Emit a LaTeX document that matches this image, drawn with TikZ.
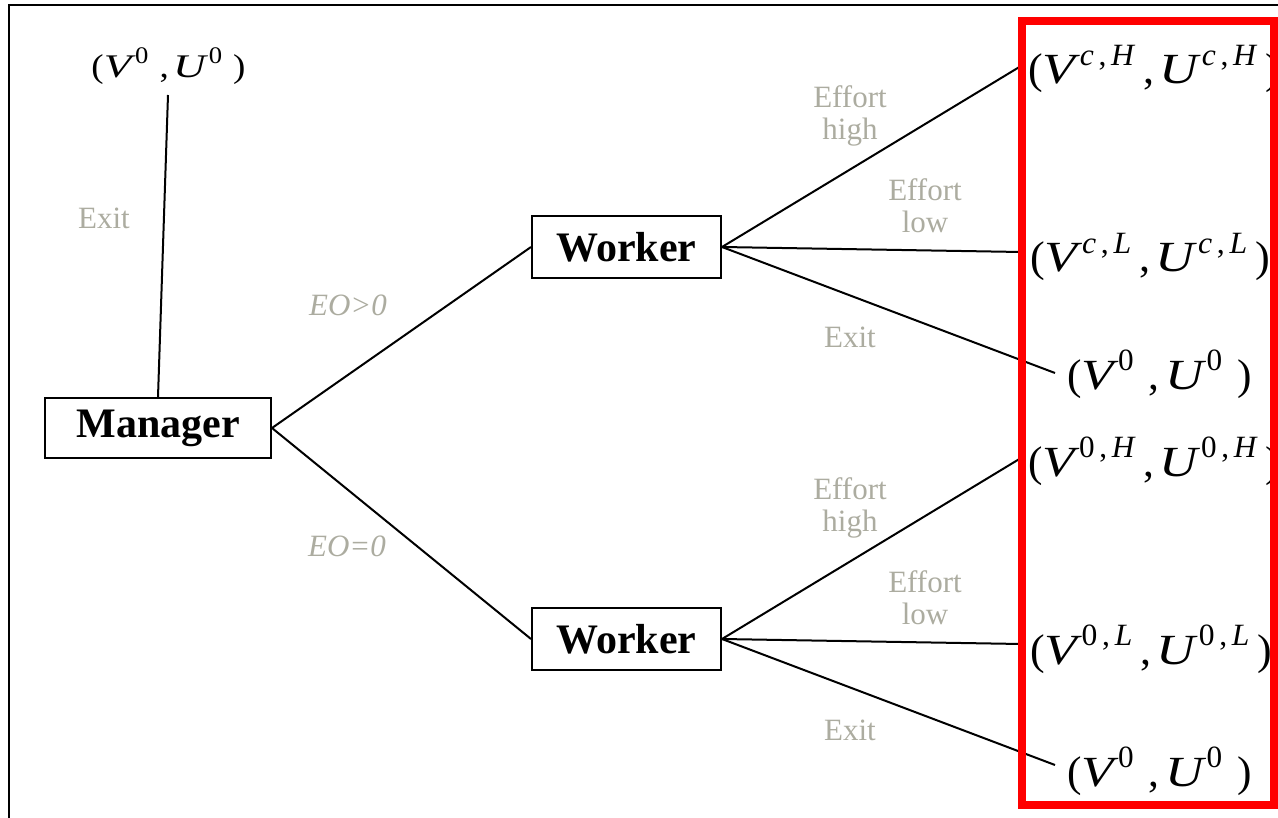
\documentclass[tikz,border=0pt]{standalone}
\usepackage{fontspec}
\setmainfont{Liberation Serif}
\usepackage{graphicx}
\definecolor{lblgray}{RGB}{172,172,160}
\definecolor{framered}{RGB}{255,0,0}
\newcommand\pupp[1]{\raisebox{0.44em}{\scalebox{0.72}{#1}}}
\newcommand\VV{\scalebox{1.22}[1]{\itshape V}}
\newcommand\UU{\scalebox{1.22}[1]{\itshape U}}
\newcommand\pay[3]{(\VV\kern0.1em\pupp{#1}\kern#3,\kern0.12em\UU\kern0.08em\pupp{#2}\kern#3)}
\newcommand\cs[2]{\textit{#1}\kern0.15em,\kern0.15em\textit{#2}}
\tikzset{
  paylbl/.style={inner sep=0pt, outer sep=0pt},
  decbox/.style={draw, line width=2pt, inner sep=0pt, font=\fontsize{42}{48}\selectfont\bfseries},
  branch/.style={line width=2pt},
  glabel/.style={text=lblgray, inner sep=0pt, align=center, font=\fontsize{31}{32}\selectfont},
}
\begin{document}
\begin{tikzpicture}[x=1pt,y=-1pt]
\useasboundingbox (0,0) rectangle (1278,818);
% frame
\draw[line width=2.5pt] (9,818) -- (9,5) -- (1278,5);

% decision nodes
\node[decbox, minimum width=226pt, minimum height=60pt] (m) at (158,428) {Manager};
\node[decbox, minimum width=189pt, minimum height=62pt] (w1) at (626.5,247) {Worker};
\node[decbox, minimum width=189pt, minimum height=62pt] (w2) at (626.5,639) {Worker};

% payoff labels
\node[paylbl, anchor=base] (p0) at (168.5,78) {\resizebox{154pt}{\height}{\fontsize{33}{34}\selectfont\pay{0}{0}{0.3em}}};
\node[paylbl, anchor=base west] (cH) at (1028,84) {\resizebox{252pt}{\height}{\fontsize{43}{44}\selectfont\pay{\cs{c}{H}}{\cs{c}{H}}{0.18em}}};
\node[paylbl, anchor=base west] (cL) at (1030,272) {\resizebox{240pt}{\height}{\fontsize{43}{44}\selectfont\pay{\cs{c}{L}}{\cs{c}{L}}{0.18em}}};
\node[paylbl, anchor=base west] (e1) at (1067,389) {\resizebox{185pt}{\height}{\fontsize{43}{44}\selectfont\pay{0}{0}{0.35em}}};
\node[paylbl, anchor=base west] (zH) at (1028,476) {\resizebox{252pt}{\height}{\fontsize{43}{44}\selectfont\pay{\cs{\upshape 0}{H}}{\cs{\upshape 0}{H}}{0.18em}}};
\node[paylbl, anchor=base west] (zL) at (1030,664) {\resizebox{242pt}{\height}{\fontsize{43}{44}\selectfont\pay{\cs{\upshape 0}{L}}{\cs{\upshape 0}{L}}{0.18em}}};
\node[paylbl, anchor=base west] (e2) at (1067,786) {\resizebox{185pt}{\height}{\fontsize{43}{44}\selectfont\pay{0}{0}{0.35em}}};

% connector end points
\coordinate (p0b) at (168,95);
\coordinate (tH1) at (1021,66);
\coordinate (tL1) at (1021,252);
\coordinate (tE1) at (1055,373);
\coordinate (tH2) at (1021,458);
\coordinate (tL2) at (1021,644);
\coordinate (tE2) at (1055,765);

% branches
\draw[branch] (m.north) -- (p0b);
\draw[branch] (m.east) -- (w1.west);
\draw[branch] (m.east) -- (w2.west);
\draw[branch] (w1.east) -- (tH1);
\draw[branch] (w1.east) -- (tL1);
\draw[branch] (w1.east) -- (tE1);
\draw[branch] (w2.east) -- (tH2);
\draw[branch] (w2.east) -- (tL2);
\draw[branch] (w2.east) -- (tE2);

% branch labels
\node[glabel] (x0) at (104,218) {Exit};
\node[glabel, font=\fontsize{31}{32}\selectfont\itshape] (eo1) at (348,305) {EO>0};
\node[glabel, font=\fontsize{31}{32}\selectfont\itshape] (eo2) at (347,546) {EO=0};
\node[glabel] (eh1) at (850,116) {Effort\\high};
\node[glabel] (el1) at (925,206) {Effort\\low};
\node[glabel] (ex1) at (850,337) {Exit};
\node[glabel] (eh2) at (850,508) {Effort\\high};
\node[glabel] (el2) at (925,598) {Effort\\low};
\node[glabel] (ex2) at (850,730) {Exit};

% highlight frame
\draw[framered, line width=8pt] (1022,21) rectangle (1274,805);
\end{tikzpicture}
\end{document}
